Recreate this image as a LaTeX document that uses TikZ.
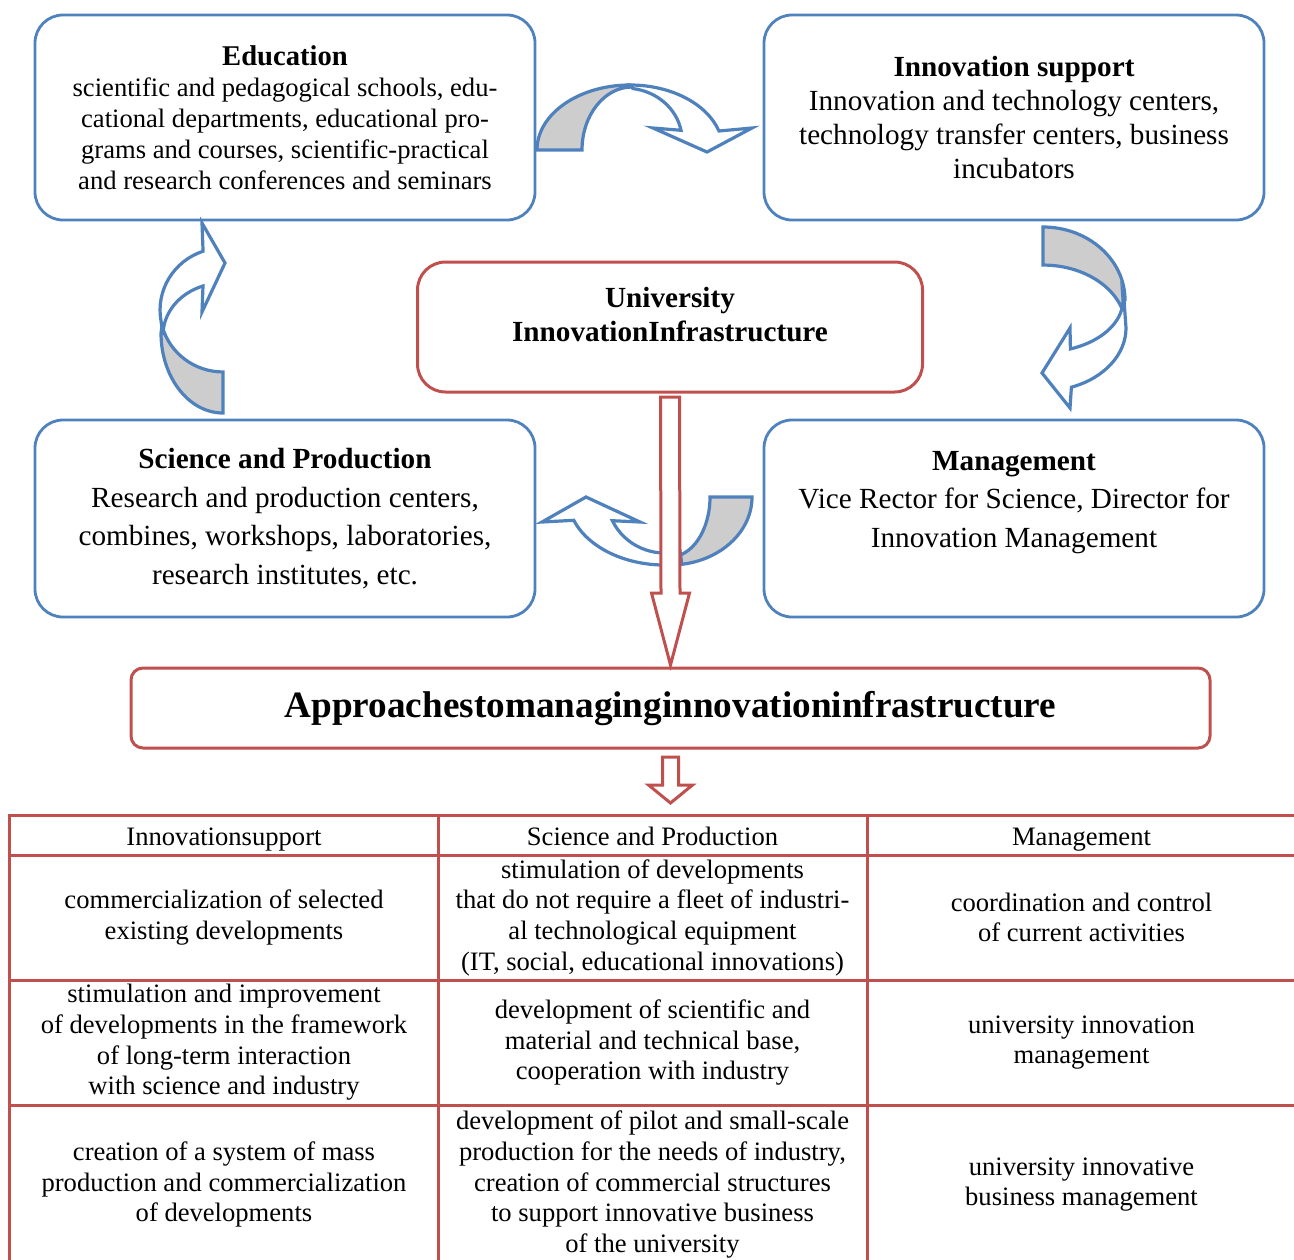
\documentclass[tikz,border=0pt]{standalone}
\usepackage{fontspec}
\setmainfont{Liberation Serif}
\usetikzlibrary{calc}

\definecolor{c4f81bd}{RGB}{79,129,189}
\definecolor{cc0504d}{RGB}{192,80,77}
\definecolor{ccdcdcd}{RGB}{205,205,205}

\tikzset{
  bluebox/.style={draw=c4f81bd, line width=1.4pt, rounded corners=14pt, align=center,
    minimum width=250pt, inner sep=0pt, outer sep=0pt},
  redbox/.style={draw=cc0504d, line width=1.5pt, align=center, inner sep=0pt, outer sep=0pt},
  cell/.style={draw=cc0504d, line width=1.5pt, align=center, minimum width=214.5pt,
    inner sep=0pt, outer sep=0pt, font=\fontsize{13.3}{15.35}\selectfont},
  headcell/.style={cell, minimum height=20pt, text height=12pt, text depth=2pt},
  bendback/.style={draw=c4f81bd, fill=ccdcdcd, line width=1.6pt, line join=miter},
  bendfront/.style={draw=c4f81bd, fill=white, line width=1.6pt, line join=miter},
  redarrow/.style={draw=cc0504d, fill=white, line width=1.5pt, line join=miter},
}

\begin{document}
\begin{tikzpicture}[x=0.5pt, y=-0.5pt]
  \useasboundingbox (0,0) rectangle (1294,1259);

  % the four units round the centre
  \node[bluebox, minimum height=102.5pt, font=\fontsize{13.3}{15.5}\selectfont] (educ) at (285,117.5)
    {{\fontsize{14.3}{15.5}\selectfont\bfseries Education}\\
     scientific and pedagogical schools, edu-\\
     cational departments, educational pro-\\
     grams and courses, scientific-practical\\
     and research conferences and seminars};
  \node[bluebox, minimum height=102.5pt, font=\fontsize{14.6}{16.9}\selectfont] (insup) at (1014,117.5)
    {{\bfseries Innovation support}\\
     Innovation and technology centers,\\
     technology transfer centers, business\\
     incubators};
  \node[bluebox, minimum height=98.5pt, font=\fontsize{14.6}{19.3}\selectfont] (scipr) at (285,518.5)
    {{\bfseries Science and Production}\\
     Research and production centers,\\
     combines, workshops, laboratories,\\
     research institutes, etc.};
  \node[bluebox, minimum height=98.5pt, font=\fontsize{14.6}{19.3}\selectfont] (mgmt) at (1014,518.5)
    {{\bfseries Management}\\
     Vice Rector for Science, Director for\\
     Innovation Management\\ \mbox{}};

  % centre and result
  \node[redbox, rounded corners=14pt, minimum width=252.5pt, minimum height=65pt,
    font=\fontsize{14.6}{17}\selectfont\bfseries] (univ) at (670,327)
    {University\\ InnovationInfrastructure\\[-4pt] \mbox{}};
  \node[redbox, rounded corners=6pt, minimum width=539.5pt, minimum height=40pt,
    font=\fontsize{18.6}{22}\selectfont\bfseries] (appr) at (670.5,708)
    {Approachestomanaginginnovationinfrastructure};

  % curved arrows: top
  \path[bendback] (537,150) arc[start angle=180, end angle=270, x radius=93, y radius=65]
    -- (632,87) arc[start angle=270, end angle=180, x radius=50, y radius=63] -- cycle;
  \path[bendfront] (630,85) arc[start angle=270, end angle=343, x radius=93, y radius=65]
    -- (752,128) -- (707,152) -- (653,128)
    -- (681,130.3) arc[start angle=349.2, end angle=278, x radius=57, y radius=52] -- cycle;

  % right
  \path[bendback] (1043,227) arc[start angle=270, end angle=360, x radius=82, y radius=73]
    -- (1121,306.5) arc[start angle=-20, end angle=-90, x radius=83, y radius=63] -- cycle;
  \path[bendfront] (1124,300) -- (1126,328) arc[start angle=0, end angle=70, x radius=83, y radius=63]
    -- (1070,408) -- (1042,373) -- (1070,328)
    -- (1070.4,348.9) arc[start angle=70, end angle=-5, x radius=80, y radius=52] -- cycle;

  % left
  \path[bendback] (223,413) arc[start angle=90, end angle=180, x radius=62, y radius=80]
    -- (162.1,326) arc[start angle=165, end angle=90, x radius=63, y radius=62] -- cycle;
  \path[bendfront] (161,320.8) arc[start angle=170, end angle=251.5, x radius=63, y radius=62]
    -- (202,223) -- (225,263) -- (202,312)
    -- (203,286) arc[start angle=250.5, end angle=180, x radius=60, y radius=52] -- cycle;

  % bottom
  \path[bendback] (752,497) arc[start angle=0, end angle=90, x radius=82, y radius=68]
    -- (670,557) arc[start angle=90, end angle=0, x radius=40, y radius=60] -- cycle;
  \path[bendfront] (681.8,564) arc[start angle=80, end angle=160, x radius=97, y radius=68]
    -- (542,522) -- (586,497) -- (640,522)
    -- (612.4,520.7) arc[start angle=155, end angle=75, x radius=58, y radius=56] -- cycle;

  % table
  \node[headcell] (hd1) at (224,835) {Innovationsupport};
  \node[headcell] (hd2) at (652.5,835) {Science and Production};
  \node[headcell] (hd3) at (1081.5,835) {Management};

  \node[cell, minimum height=62.5pt] (r1c1) at (224,917.5)
    {commercialization of selected\\ existing developments};
  \node[cell, minimum height=62.5pt] (r1c2) at (652.5,917.5)
    {stimulation of developments\\ that do not require a fleet of industri-\\
     al technological equipment\\ (IT, social, educational innovations)};
  \node[cell, minimum height=62.5pt] (r1c3) at (1081.5,917.5)
    {coordination and control\\ of current activities};

  \node[cell, minimum height=62.5pt] (r2c1) at (224,1042.5)
    {stimulation and improvement\\ of developments in the framework\\
     of long-term interaction\\ with science and industry};
  \node[cell, minimum height=62.5pt] (r2c2) at (652.5,1042.5)
    {development of scientific and\\ material and technical base,\\
     cooperation with industry};
  \node[cell, minimum height=62.5pt] (r2c3) at (1081.5,1042.5)
    {university innovation\\ management};

  \node[cell, minimum height=79.5pt] (r3c1) at (224,1184.5)
    {creation of a system of mass\\ production and commercialization\\
     of developments};
  \node[cell, minimum height=79.5pt] (r3c2) at (652.5,1184.5)
    {development of pilot and small-scale\\ production for the needs of industry,\\
     creation of commercial structures\\ to support innovative business\\
     of the university};
  \node[cell, minimum height=79.5pt] (r3c3) at (1081.5,1184.5)
    {university innovative\\ business management};

  % straight arrows
  \path[redarrow] ($(univ.south)+(-9.5,5)$) -- ($(univ.south)+(9.5,5)$)
    -- ($(appr.north)+(9.5,-75)$) -- ($(appr.north)+(19,-75)$)
    -- ($(appr.north)+(0,-3)$)
    -- ($(appr.north)+(-19,-75)$) -- ($(appr.north)+(-9.5,-75)$) -- cycle;
  \path[redarrow] ($(appr.south)+(-8,9)$) -- ($(appr.south)+(8,9)$)
    -- ($(appr.south |- hd2.north)+(8,-30)$) -- ($(appr.south |- hd2.north)+(22,-30)$)
    -- ($(appr.south |- hd2.north)+(0,-12)$)
    -- ($(appr.south |- hd2.north)+(-22,-30)$) -- ($(appr.south |- hd2.north)+(-8,-30)$) -- cycle;

\end{tikzpicture}
\end{document}
